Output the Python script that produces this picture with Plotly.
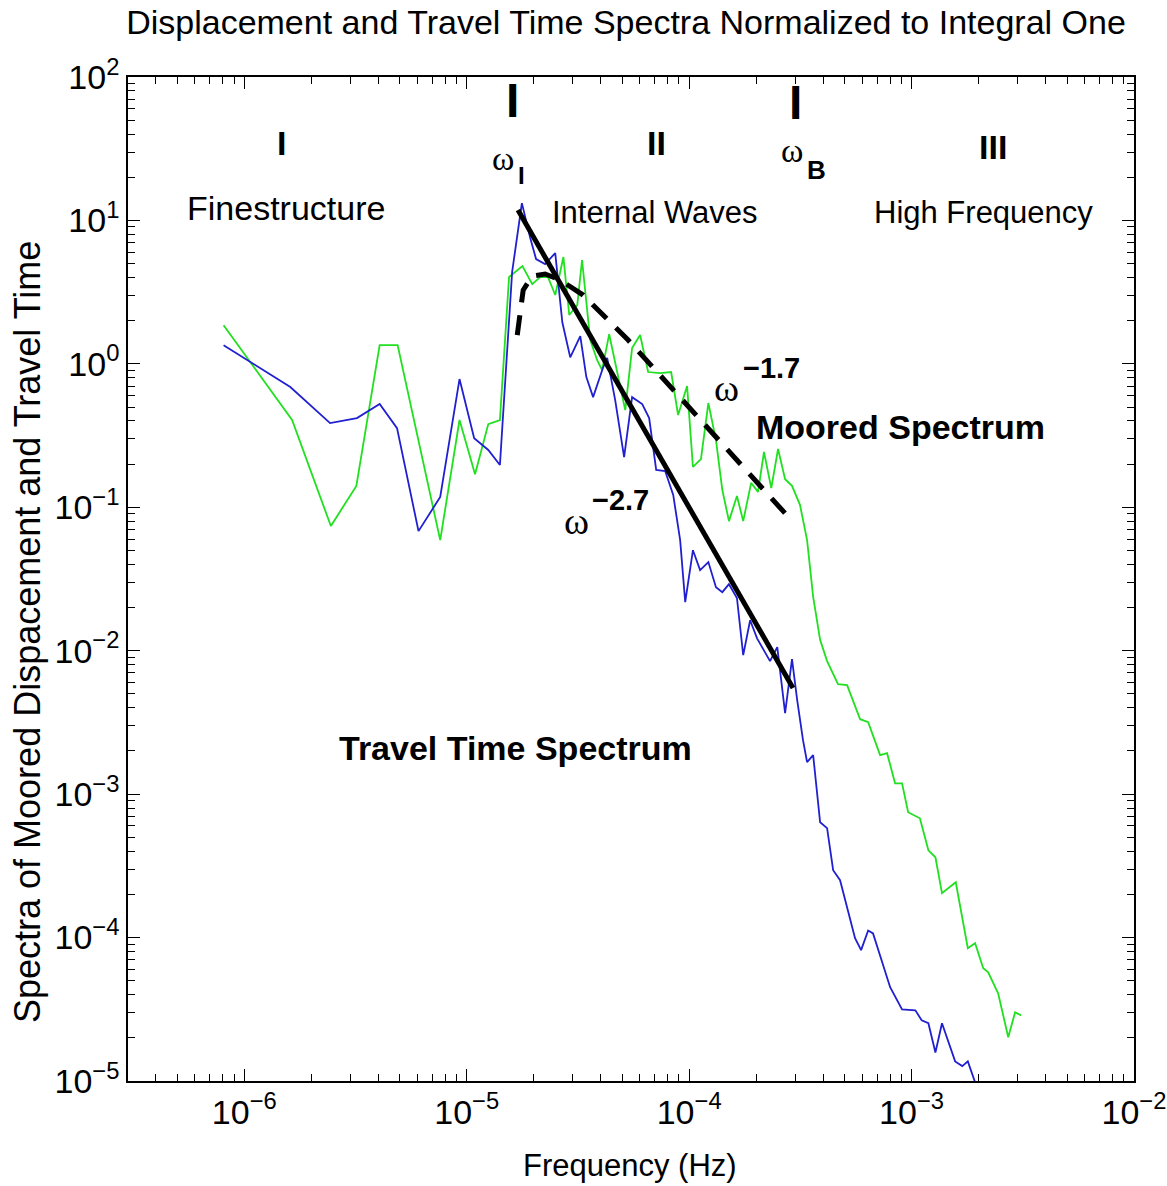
import plotly.graph_objects as go

# ---------------- data ----------------
travel_freq = [8.07e-7, 1.61e-6, 2.43e-6, 3.21e-6, 4.06e-6, 4.86e-6, 6.07e-6, 7.60e-6, 9.28e-6,
               1.08e-5, 1.25e-5, 1.41e-5, 1.60e-5, 1.77e-5, 1.93e-5, 2.05e-5, 2.25e-5, 2.50e-5,
               2.69e-5, 2.92e-5, 3.24e-5, 3.45e-5, 3.70e-5, 4.11e-5, 4.28e-5, 4.65e-5, 5.10e-5,
               5.54e-5, 6.15e-5, 6.61e-5, 7.11e-5, 7.80e-5, 8.48e-5, 9.11e-5, 9.60e-5, 1.04e-4,
               1.12e-4, 1.22e-4, 1.32e-4, 1.41e-4, 1.51e-4, 1.64e-4, 1.75e-4, 1.88e-4, 2.02e-4,
               2.31e-4, 2.49e-4, 2.70e-4, 2.90e-4, 3.06e-4, 3.25e-4, 3.39e-4, 3.61e-4, 3.88e-4,
               4.17e-4, 4.44e-4, 4.77e-4, 5.57e-4, 5.93e-4, 6.38e-4, 6.71e-4, 8.01e-4, 9.06e-4,
               1.04e-3, 1.11e-3, 1.19e-3, 1.28e-3, 1.37e-3, 1.57e-3, 1.69e-3, 1.79e-3, 1.93e-3]
travel_spec = [1.35, 0.689, 0.386, 0.419, 0.525, 0.356, 0.0682, 0.118, 0.783,
               0.303, 0.251, 0.197, 4.37, 13.2, 7.54, 5.38, 4.96, 5.92,
               1.95, 1.11, 1.56, 0.809, 0.586, 0.950, 1.10, 0.559, 0.224,
               0.586, 0.525, 0.419, 0.182, 0.179, 0.122, 0.0590, 0.0218, 0.0502,
               0.0365, 0.0415, 0.0277, 0.0256, 0.0291, 0.0233, 0.00931, 0.0163, 0.0122,
               0.00846, 0.0106, 0.00367, 0.00873, 0.00452, 0.00238, 0.00167, 0.00187, 6.37e-4,
               5.79e-4, 2.95e-4, 2.51e-4, 9.89e-5, 8.17e-5, 1.12e-4, 1.07e-4, 4.51e-5, 3.16e-5,
               3.11e-5, 2.65e-5, 2.53e-5, 1.58e-5, 2.53e-5, 1.37e-5, 1.27e-5, 1.37e-5, 9.8e-6]

moored_freq = [8.07e-7, 1.64e-6, 2.45e-6, 3.19e-6, 4.06e-6, 4.89e-6, 7.60e-6, 9.28e-6, 1.09e-5,
               1.25e-5, 1.41e-5, 1.55e-5, 1.78e-5, 1.97e-5, 2.14e-5, 2.32e-5, 2.50e-5, 2.72e-5,
               2.89e-5, 3.14e-5, 3.30e-5, 3.59e-5, 3.86e-5, 4.06e-5, 4.37e-5, 5.16e-5, 5.54e-5,
               6.02e-5, 6.54e-5, 7.41e-5, 8.30e-5, 8.92e-5, 9.79e-5, 1.04e-4, 1.13e-4, 1.22e-4,
               1.32e-4, 1.41e-4, 1.51e-4, 1.64e-4, 1.75e-4, 1.90e-4, 2.04e-4, 2.17e-4, 2.34e-4,
               2.51e-4, 2.70e-4, 2.90e-4, 3.15e-4, 3.39e-4, 3.61e-4, 3.88e-4, 4.17e-4, 4.67e-4,
               5.13e-4, 5.87e-4, 6.38e-4, 7.22e-4, 7.76e-4, 8.43e-4, 9.06e-4, 9.65e-4, 1.09e-3,
               1.19e-3, 1.28e-3, 1.37e-3, 1.58e-3, 1.79e-3, 1.93e-3, 2.10e-3, 2.21e-3, 2.45e-3,
               2.72e-3, 2.92e-3, 3.11e-3]
moored_spec = [1.86, 0.406, 0.0740, 0.141, 1.35, 1.35, 0.0590, 0.406, 0.170,
               0.380, 0.406, 4.03, 4.81, 3.60, 4.03, 4.03, 3.02, 5.56,
               2.19, 2.57, 5.30, 1.47, 1.06, 0.905, 1.61, 0.476, 1.29,
               1.59, 0.877, 0.863, 0.877, 0.440, 0.700, 0.191, 0.217, 0.533,
               0.294, 0.132, 0.0801, 0.120, 0.0801, 0.148, 0.128, 0.243, 0.136,
               0.255, 0.157, 0.141, 0.104, 0.0590, 0.0237, 0.0119, 0.00846, 0.00585,
               0.00575, 0.00333, 0.00318, 0.00187, 0.00193, 0.00119, 0.00119, 7.48e-4, 6.79e-4,
               4.06e-4, 3.63e-4, 2.04e-4, 2.43e-4, 8.43e-5, 9.14e-5, 6.11e-5, 5.73e-5, 4.09e-5,
               2.02e-5, 3.01e-5, 2.87e-5]

# omega^-2.7 fit (solid) endpoints
fit27_freq = [1.70e-5, 2.93e-4]
fit27_spec = [11.8, 5.5e-3]

# omega^-1.7 model (dashed)
fit17_freq = [1.687e-5, 1.794e-5, 1.970e-5, 2.253e-5, 2.632e-5, 3.338e-5, 5.318e-5,
              9.112e-5, 1.804e-4, 2.933e-4]
fit17_spec = [1.588, 3.270, 4.096, 4.229, 3.841, 3.018, 1.466, 0.5776, 0.1817, 0.0788]

x_tickvals = [1e-6, 1e-5, 1e-4, 1e-3, 1e-2]
x_ticktext = ["10<sup>−6</sup>", "10<sup>−5</sup>", "10<sup>−4</sup>", "10<sup>−3</sup>", "10<sup>−2</sup>"]
y_tickvals = [1e-5, 1e-4, 1e-3, 1e-2, 1e-1, 1e0, 1e1, 1e2]
y_ticktext = ["10<sup>−5</sup>", "10<sup>−4</sup>", "10<sup>−3</sup>", "10<sup>−2</sup>",
              "10<sup>−1</sup>", "10<sup>0</sup>", "10<sup>1</sup>", "10<sup>2</sup>"]

# ---------------- figure ----------------
W, H = 1167, 1186
ML, MR, MT, MB = 128, 33, 77, 105
PW, PH = W - ML - MR, H - MT - MB

def px(x):
    return (x - ML) / PW

def py(y):
    return (H - MB - y) / PH

FONT = "Liberation Sans, Arial, Helvetica, sans-serif"
SERIF = "Liberation Serif, Times New Roman, serif"

fig = go.Figure()
fig.add_trace(go.Scatter(x=moored_freq, y=moored_spec, mode="lines",
                         line=dict(color="#20e020", width=1.8), showlegend=False))
fig.add_trace(go.Scatter(x=travel_freq, y=travel_spec, mode="lines",
                         line=dict(color="#2020d0", width=1.8), showlegend=False))
fig.add_trace(go.Scatter(x=fit27_freq, y=fit27_spec, mode="lines",
                         line=dict(color="black", width=5), showlegend=False))
fig.add_trace(go.Scatter(x=fit17_freq, y=fit17_spec, mode="lines",
                         line=dict(color="black", width=5, dash="20px,13px"), showlegend=False))

axis_common = dict(
    type="log", showline=True, linecolor="black", linewidth=1.5, mirror="allticks",
    ticks="inside", ticklen=12, tickwidth=1.2, tickcolor="black",
    showgrid=False, zeroline=False, automargin=False,
    tickfont=dict(family=FONT, size=34, color="black"),
    minor=dict(ticks="inside", ticklen=7, tickwidth=1, tickcolor="black",
               showgrid=False, dtick="D1"),
)

fig.update_layout(
    width=W, height=H,
    margin=dict(l=ML, r=MR, t=MT, b=MB, autoexpand=False),
    paper_bgcolor="white", plot_bgcolor="white",
    title=dict(text="Displacement and Travel Time Spectra Normalized to Integral One",
               x=626 / W, xref="container", xanchor="center",
               y=(H - 22) / H, yref="container", yanchor="middle",
               font=dict(family=FONT, size=34, color="black")),
    xaxis=dict(axis_common, range=[-6.5229, -2], tickvals=x_tickvals, ticktext=x_ticktext),
    yaxis=dict(axis_common, range=[-5, 2], tickvals=y_tickvals, ticktext=y_ticktext),
    showlegend=False,
)

def ann(text, x, y, size, bold=False, family=FONT, angle=0):
    t = f"<b>{text}</b>" if bold else text
    fig.add_annotation(text=t, x=px(x), y=py(y), xref="paper", yref="paper",
                       showarrow=False, xanchor="center", yanchor="middle",
                       textangle=angle, font=dict(family=family, size=size, color="black"))

# axis titles
ann("Frequency (Hz)", 630, 1165, 31)
ann("Spectra of Moored Dispacement and Travel Time", 27, 632, 36, angle=-90)

# frequency markers
ann("I", 512, 101, 48, bold=True)
ann("I", 795, 103, 48, bold=True)
ann("ω", 503, 158, 34, family=SERIF)
ann("I", 521, 175, 24, bold=True)
ann("ω", 792, 150, 34, family=SERIF)
ann("B", 816, 170, 26, bold=True)

# regimes
ann("I", 281, 143, 34, bold=True)
ann("II", 656, 143, 34, bold=True)
ann("III", 993, 147, 34, bold=True)
ann("Finestructure", 286, 208, 34)
ann("Internal Waves", 655, 212, 31)
ann("High Frequency", 983, 212, 31)

# slope labels
ann("ω", 726, 388, 38, family=SERIF)
ann("−1.7", 771, 368, 29, bold=True)
ann("ω", 576, 521, 38, family=SERIF)
ann("−2.7", 620, 500, 29, bold=True)

ann("Moored Spectrum", 900, 427, 34, bold=True)
ann("Travel Time Spectrum", 515, 748, 34, bold=True)

fig.write_html("out.html")
